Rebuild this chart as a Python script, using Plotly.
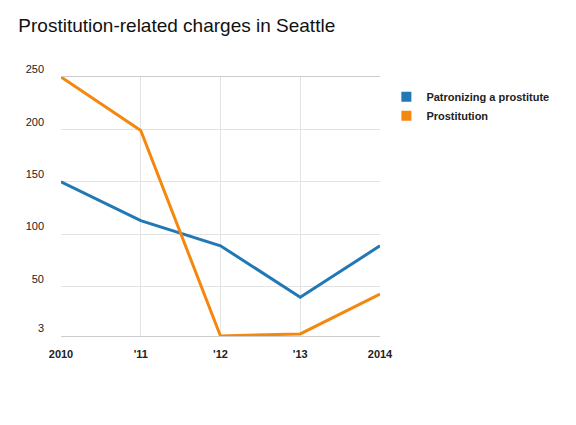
import plotly.graph_objects as go

# values
years = [0, 1, 2, 3, 4]
year_labels = ["2010", "'11", "'12", "'13", "2014"]
patronizing = [150, 113, 89, 40, 89]
prostitution = [250, 199, 3, 5, 43]
y_ticks = [3, 50, 100, 150, 200, 250]
series_names = ["Patronizing a prostitute", "Prostitution"]
colors = ["#2278b5", "#f5870f"]

fig = go.Figure()
for vals, name, col in zip([patronizing, prostitution], series_names, colors):
    fig.add_trace(go.Scatter(x=years, y=vals, mode="lines", name=name, showlegend=False,
                             line=dict(color=col, width=3)))
    # square swatch for the legend
    fig.add_trace(go.Scatter(x=[None], y=[None], mode="markers", name="<b>" + name + "</b>",
                             marker=dict(symbol="square", size=10, color=col)))

fig.update_layout(
    width=576, height=425,
    paper_bgcolor="white", plot_bgcolor="white",
    font=dict(family="Liberation Sans, Arial", color="#222"),
    title=dict(text="Prostitution-related charges in Seattle", x=0.018, y=0.975,
               xanchor="left", yanchor="top", font=dict(size=19, color="#111")),
    margin=dict(l=53, r=204, t=69, b=97, autoexpand=False),
    legend=dict(x=1.02, y=0.98, xanchor="left", yanchor="top",
                font=dict(size=11, color="#222"), tracegroupgap=2, itemwidth=30),
)
fig.update_xaxes(range=[0, 4], tickvals=years, ticktext=year_labels, showgrid=True,
                 gridcolor="#e3e3e3", showline=True, linecolor="#ccc", mirror=True,
                 tickfont=dict(size=11, color="#222", weight="bold"), ticks="", ticklabelstandoff=8,
                 zeroline=False)
fig.update_yaxes(range=[3, 250], tickvals=y_ticks, showgrid=True, gridcolor="#e3e3e3",
                 showline=False, tickfont=dict(size=11, color="#222"), ticks="",
                 ticklabelposition="outside top", ticklabelstandoff=16, zeroline=False)

fig.write_html("out.html")
